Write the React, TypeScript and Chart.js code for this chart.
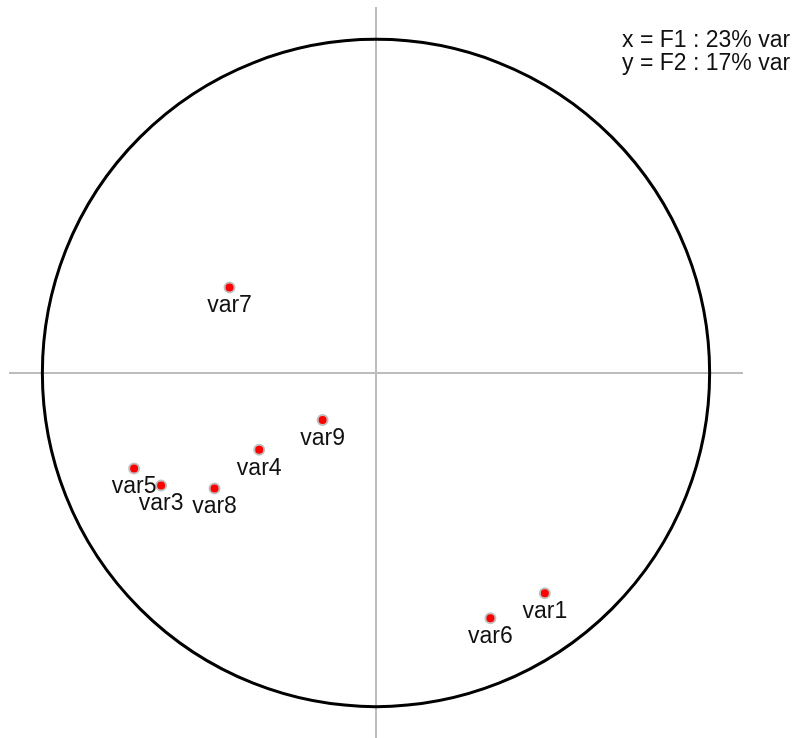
import React, { useEffect, useRef } from "react";
import { Chart, registerables } from "chart.js";

Chart.register(...registerables);

const labels = ["var1", "var3", "var4", "var5", "var6", "var7", "var8", "var9"];
const xValues = [0.506, -0.644, -0.35, -0.725, 0.343, -0.439, -0.484, -0.16];
const yValues = [-0.662, -0.338, -0.231, -0.287, -0.737, 0.257, -0.347, -0.141];
const infoLines = ["x = F1 : 23% var", "y = F2 : 17% var"];

const FONT = '23px "Liberation Sans", Arial, Helvetica, sans-serif';

const circlePlugin = {
  id: "circleAxes",
  beforeDatasetsDraw(chart: any) {
    const { ctx, scales } = chart;
    const xs = scales.x;
    const ys = scales.y;
    const cx = xs.getPixelForValue(0);
    const cy = ys.getPixelForValue(0);
    ctx.save();
    ctx.strokeStyle = "#bdbdbd";
    ctx.lineWidth = 2;
    ctx.beginPath();
    ctx.moveTo(xs.getPixelForValue(xs.min), cy);
    ctx.lineTo(xs.getPixelForValue(xs.max), cy);
    ctx.moveTo(cx, ys.getPixelForValue(ys.min));
    ctx.lineTo(cx, ys.getPixelForValue(ys.max));
    ctx.stroke();
    const r = xs.getPixelForValue(1) - cx;
    ctx.strokeStyle = "#000";
    ctx.lineWidth = 3;
    ctx.beginPath();
    ctx.arc(cx, cy, r, 0, Math.PI * 2);
    ctx.stroke();
    ctx.restore();
  },
  afterDatasetsDraw(chart: any) {
    const { ctx } = chart;
    const meta = chart.getDatasetMeta(0);
    ctx.save();
    ctx.font = FONT;
    ctx.fillStyle = "#111";
    ctx.textAlign = "center";
    ctx.textBaseline = "alphabetic";
    meta.data.forEach((el: any, i: number) => {
      ctx.fillText(labels[i], el.x, el.y + 25);
    });
    ctx.textAlign = "left";
    ctx.textBaseline = "middle";
    infoLines.forEach((t, i) => {
      ctx.fillText(t, 622, 41 + i * 23);
    });
    ctx.restore();
  },
};

export default function App() {
  const ref = useRef<HTMLCanvasElement>(null);
  useEffect(() => {
    if (!ref.current) return;
    const chart = new Chart(ref.current, {
      type: "scatter",
      data: {
        datasets: [
          {
            data: xValues.map((x, i) => ({ x, y: yValues[i] })),
            backgroundColor: "#ff0000",
            borderColor: "#c0c0c0",
            borderWidth: 2,
            pointRadius: 5,
            pointHoverRadius: 5,
          },
        ],
      },
      options: {
        animation: false,
        responsive: false,
        maintainAspectRatio: false,
        layout: { padding: { left: 9, right: 61, top: 6, bottom: 6 } },
        plugins: { legend: { display: false }, tooltip: { enabled: false } },
        scales: {
          x: { type: "linear", min: -1.1, max: 1.1, display: false },
          y: { type: "linear", min: -1.1, max: 1.1, display: false },
        },
      },
      plugins: [circlePlugin],
    });
    return () => chart.destroy();
  }, []);
  return (
    <div style={{ position: "fixed", left: 0, top: 0, width: 804, height: 746, background: "#fff" }}>
      <canvas ref={ref} width={804} height={746} style={{ width: 804, height: 746 }} />
    </div>
  );
}
